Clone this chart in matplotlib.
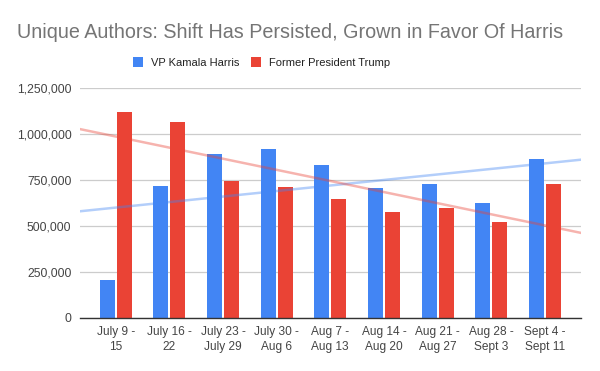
import numpy as np
import matplotlib.pyplot as plt
from matplotlib.ticker import FuncFormatter

plt.rcParams['font.family'] = ['Liberation Sans', 'DejaVu Sans']

weeks = ['July 9 -\n15', 'July 16 -\n22', 'July 23 -\nJuly 29', 'July 30 -\nAug 6',
         'Aug 7 -\nAug 13', 'Aug 14 -\nAug 20', 'Aug 21 -\nAug 27', 'Aug 28 -\nSept 3',
         'Sept 4 -\nSept 11']
harris = [207000, 716000, 891000, 917000, 830000, 705000, 727000, 623000, 862000]
trump = [1118000, 1063000, 745000, 710000, 645000, 574000, 598000, 520000, 727000]

blue = '#4285F4'
red = '#EA4335'

fig = plt.figure(figsize=(6, 3.71), dpi=100)
ax = fig.add_axes([0.133, 0.143, 0.835, 0.62])

x = np.arange(len(weeks))
w = 0.28
ax.bar(x - 0.158, harris, w, color=blue, label='VP Kamala Harris', zorder=2)
ax.bar(x + 0.158, trump, w, color=red, label='Former President Trump', zorder=2)

xl = (-0.67, 8.67)
xs = np.array(xl)
for vals, c in ((harris, blue), (trump, red)):
    k, b = np.polyfit(x, vals, 1)
    ax.plot(xs, k * xs + b, color=c, alpha=0.4, lw=1.8, zorder=3)

ax.set_xlim(xl)
ax.set_ylim(0, 1250000)
ax.set_yticks(np.arange(0, 1250001, 250000))
ax.yaxis.set_major_formatter(FuncFormatter(lambda v, p: f'{int(v):,}'))
ax.set_xticks(x)
ax.set_xticklabels(weeks, linespacing=1.35)
ax.tick_params(length=0, colors='#444444')
ax.tick_params(axis='x', labelsize=8.6, pad=6)
ax.tick_params(axis='y', labelsize=8.8, pad=6)
ax.grid(axis='y', color='#cccccc', lw=0.9, zorder=0)
for s in ['top', 'right', 'left']:
    ax.spines[s].set_visible(False)
ax.spines['bottom'].set_color('#333333')
ax.spines['bottom'].set_linewidth(1.0)
ax.spines['bottom'].set_zorder(4)

fig.text(0.484, 0.913, 'Unique Authors: Shift Has Persisted, Grown in Favor Of Harris',
         ha='center', va='center', fontsize=14.2, color='#757575')
fig.legend(loc='center', bbox_to_anchor=(0.436, 0.831), ncol=2, frameon=False,
           fontsize=8.0, handlelength=0.9, handleheight=0.9, columnspacing=1.1,
           handletextpad=0.7, labelcolor='#222222')

fig.savefig('out.png', dpi=100)
